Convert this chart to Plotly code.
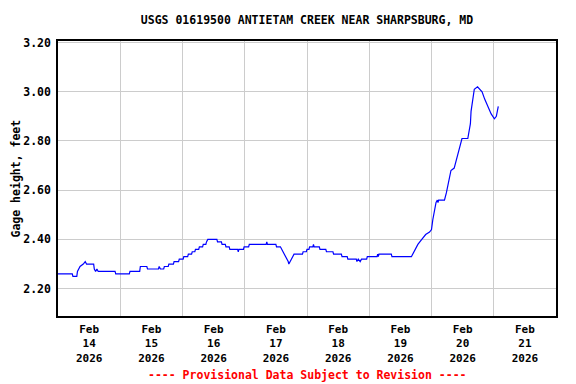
import plotly.graph_objects as go

times = [
    "2026-02-14 00:00", "2026-02-14 05:30", "2026-02-14 05:45", "2026-02-14 07:15", "2026-02-14 07:30",
    "2026-02-14 08:30", "2026-02-14 09:45", "2026-02-14 10:30", "2026-02-14 11:00", "2026-02-14 13:45",
    "2026-02-14 14:00", "2026-02-14 14:30", "2026-02-14 15:00", "2026-02-14 15:30", "2026-02-14 22:00",
    "2026-02-14 22:15", "2026-02-15 03:30", "2026-02-15 03:45", "2026-02-15 07:30", "2026-02-15 07:45",
    "2026-02-15 10:15", "2026-02-15 10:30", "2026-02-15 14:45", "2026-02-15 15:00", "2026-02-15 15:30",
    "2026-02-15 16:45", "2026-02-15 17:00", "2026-02-15 18:30", "2026-02-15 18:45", "2026-02-15 20:30",
    "2026-02-15 20:45", "2026-02-15 22:30", "2026-02-15 22:45", "2026-02-16 00:15", "2026-02-16 00:30",
    "2026-02-16 02:00", "2026-02-16 02:15", "2026-02-16 03:30", "2026-02-16 03:45", "2026-02-16 04:45",
    "2026-02-16 05:00", "2026-02-16 06:15", "2026-02-16 06:30", "2026-02-16 07:45", "2026-02-16 08:00",
    "2026-02-16 09:00", "2026-02-16 09:15", "2026-02-16 09:45", "2026-02-16 13:15", "2026-02-16 13:30",
    "2026-02-16 15:00", "2026-02-16 15:15", "2026-02-16 16:30", "2026-02-16 16:45", "2026-02-16 18:00",
    "2026-02-16 18:15", "2026-02-16 21:15", "2026-02-16 21:30", "2026-02-16 21:45", "2026-02-16 23:30",
    "2026-02-16 23:45", "2026-02-17 01:30", "2026-02-17 01:45", "2026-02-17 08:15", "2026-02-17 08:30",
    "2026-02-17 08:45", "2026-02-17 12:00", "2026-02-17 12:15", "2026-02-17 13:45", "2026-02-17 14:45",
    "2026-02-17 16:00", "2026-02-17 16:45", "2026-02-17 17:00", "2026-02-17 17:30", "2026-02-17 18:15",
    "2026-02-17 19:00", "2026-02-17 22:15", "2026-02-17 22:30", "2026-02-17 23:45", "2026-02-18 00:00",
    "2026-02-18 00:45", "2026-02-18 01:00", "2026-02-18 02:15", "2026-02-18 02:30", "2026-02-18 02:45",
    "2026-02-18 04:45", "2026-02-18 05:00", "2026-02-18 07:15", "2026-02-18 07:30", "2026-02-18 10:00",
    "2026-02-18 10:15", "2026-02-18 13:15", "2026-02-18 13:30", "2026-02-18 15:30", "2026-02-18 15:45",
    "2026-02-18 19:00", "2026-02-18 19:15", "2026-02-18 19:45", "2026-02-18 20:30", "2026-02-18 21:00",
    "2026-02-18 23:00", "2026-02-18 23:15", "2026-02-19 03:00", "2026-02-19 03:15", "2026-02-19 03:30",
    "2026-02-19 03:45", "2026-02-19 08:30", "2026-02-19 08:45", "2026-02-19 16:15", "2026-02-19 16:45",
    "2026-02-19 17:30", "2026-02-19 18:45", "2026-02-19 20:15", "2026-02-19 21:45", "2026-02-19 23:15",
    "2026-02-20 00:00", "2026-02-20 00:30", "2026-02-20 01:15", "2026-02-20 01:45", "2026-02-20 02:15",
    "2026-02-20 02:30", "2026-02-20 02:45", "2026-02-20 05:00", "2026-02-20 05:45", "2026-02-20 06:15",
    "2026-02-20 07:00", "2026-02-20 07:30", "2026-02-20 08:45", "2026-02-20 09:30", "2026-02-20 10:15",
    "2026-02-20 10:45", "2026-02-20 11:45", "2026-02-20 14:00", "2026-02-20 14:30", "2026-02-20 15:00",
    "2026-02-20 15:15", "2026-02-20 16:00", "2026-02-20 16:30", "2026-02-20 17:45", "2026-02-20 18:30",
    "2026-02-20 19:30", "2026-02-20 20:30", "2026-02-20 21:45", "2026-02-20 23:00", "2026-02-21 00:15",
    "2026-02-21 01:00", "2026-02-21 01:45",
]

gage_height = [
    2.26, 2.26, 2.25, 2.25, 2.27,
    2.29, 2.30, 2.31, 2.30, 2.30,
    2.28, 2.27, 2.28, 2.27, 2.27,
    2.26, 2.26, 2.27, 2.27, 2.29,
    2.29, 2.28, 2.28, 2.29, 2.28,
    2.28, 2.29, 2.29, 2.30, 2.30,
    2.31, 2.31, 2.32, 2.32, 2.33,
    2.33, 2.34, 2.34, 2.35, 2.35,
    2.36, 2.36, 2.37, 2.37, 2.38,
    2.38, 2.39, 2.40, 2.40, 2.39,
    2.39, 2.38, 2.38, 2.37, 2.37,
    2.36, 2.36, 2.35, 2.36, 2.36,
    2.37, 2.37, 2.38, 2.38, 2.39,
    2.38, 2.38, 2.37, 2.37, 2.35,
    2.33, 2.31, 2.30, 2.31, 2.33,
    2.34, 2.34, 2.35, 2.35, 2.36,
    2.36, 2.37, 2.37, 2.38, 2.37,
    2.37, 2.36, 2.36, 2.35, 2.35,
    2.34, 2.34, 2.33, 2.33, 2.32,
    2.32, 2.31, 2.32, 2.31, 2.32,
    2.32, 2.33, 2.33, 2.34, 2.33,
    2.34, 2.34, 2.33, 2.33, 2.34,
    2.36, 2.38, 2.40, 2.42, 2.43,
    2.44, 2.48, 2.52, 2.55, 2.56,
    2.55, 2.56, 2.56, 2.59, 2.62,
    2.65, 2.68, 2.69, 2.72, 2.75,
    2.78, 2.81, 2.81, 2.84, 2.87,
    2.92, 2.98, 3.01, 3.02, 3.01,
    3.00, 2.97, 2.94, 2.91, 2.89,
    2.90, 2.94,
]

x_tick_vals = ["2026-02-14 12:00", "2026-02-15 12:00", "2026-02-16 12:00", "2026-02-17 12:00",
               "2026-02-18 12:00", "2026-02-19 12:00", "2026-02-20 12:00", "2026-02-21 12:00"]
x_tick_text = ["Feb<br>14<br>2026", "Feb<br>15<br>2026", "Feb<br>16<br>2026", "Feb<br>17<br>2026",
               "Feb<br>18<br>2026", "Feb<br>19<br>2026", "Feb<br>20<br>2026", "Feb<br>21<br>2026"]
x_grid_vals = ["2026-02-14", "2026-02-15", "2026-02-16", "2026-02-17", "2026-02-18",
               "2026-02-19", "2026-02-20", "2026-02-21", "2026-02-22"]
y_tick_vals = [2.2, 2.4, 2.6, 2.8, 3.0, 3.2]
y_tick_text = ["2.20", "2.40", "2.60", "2.80", "3.00", "3.20"]

FONT = dict(family="DejaVu Sans Mono", size=11.5, color="black", weight="bold")
XFONT = dict(family="DejaVu Sans Mono", size=11, color="black", weight="bold")

# the page adds an 8px body margin, so the figure is sized/offset to compensate
W, H = 568, 376

fig = go.Figure()
fig.add_trace(go.Scatter(x=times, y=gage_height, mode="lines",
                         line=dict(color="#0000FF", width=1.2), showlegend=False))

fig.update_layout(
    width=W, height=H,
    margin=dict(l=50, r=20, t=33, b=68, autoexpand=False),
    paper_bgcolor="white", plot_bgcolor="white",
    font=FONT,
    title=dict(text="USGS 01619500 ANTIETAM CREEK NEAR SHARPSBURG, MD",
               x=0.5, xref="paper", y=1 - 12 / H, yref="container",
               xanchor="center", yanchor="middle", font=FONT, automargin=False),
    annotations=[
        dict(text="---- Provisional Data Subject to Revision ----",
             xref="paper", yref="paper", x=0.5, y=-0.2145,
             xanchor="center", yanchor="middle", showarrow=False,
             font=dict(family="DejaVu Sans Mono", size=11.5, color="#FF0000", weight="bold")),
        dict(text="Gage height, feet", textangle=-90,
             xref="paper", yref="paper", x=0, y=0.5, xshift=-43, borderpad=0,
             xanchor="center", yanchor="middle", showarrow=False, font=FONT),
    ],
)

fig.update_xaxes(
    type="date", range=["2026-02-14", "2026-02-22"], automargin=False,
    tickmode="array", tickvals=x_tick_vals, ticktext=x_tick_text,
    showgrid=False, ticks="", ticklabelstandoff=2,
    minor=dict(tickmode="array", tickvals=x_grid_vals, showgrid=True,
               gridcolor="#CCCCCC", gridwidth=1, ticks=""),
    showline=True, mirror=True, linecolor="black", linewidth=1.5,
    zeroline=False, tickfont=XFONT,
)
fig.update_yaxes(
    range=[2.089, 3.206], automargin=False,
    tickmode="array", tickvals=y_tick_vals, ticktext=y_tick_text,
    showgrid=True, gridcolor="#CCCCCC", gridwidth=1, ticks="",
    ticklabelstandoff=3,
    showline=True, mirror=True, linecolor="black", linewidth=1.5,
    zeroline=False, tickfont=FONT,
)

fig.write_html("out.html")
